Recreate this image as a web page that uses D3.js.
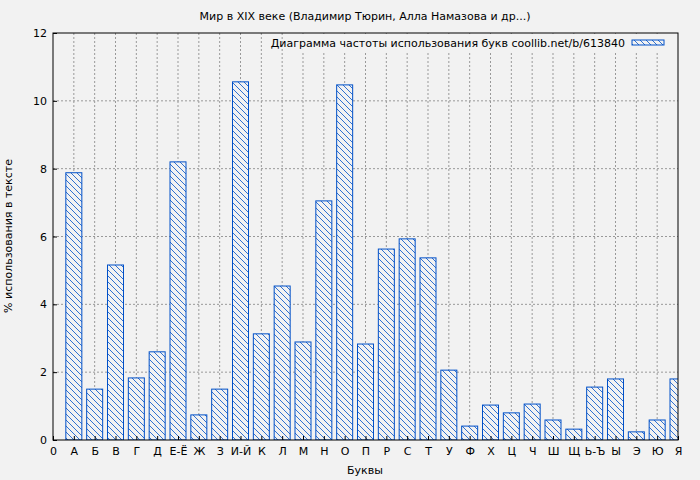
<!DOCTYPE html><html><head><meta charset="utf-8"><script src="https://cdn.jsdelivr.net/npm/d3@7"></script>
<style>body{margin:0;background:#f2f2f2}svg{font-family:"DejaVu Sans";}</style></head><body><svg width="700" height="480"></svg>
<script>
const letters=["А","Б","В","Г","Д","Е-Ё","Ж","З","И-Й","К","Л","М","Н","О","П","Р","С","Т","У","Ф","Х","Ц","Ч","Ш","Щ","Ь-Ъ","Ы","Э","Ю","Я"];
const values=[7.88,1.5,5.16,1.83,2.6,8.2,0.74,1.5,10.56,3.13,4.54,2.89,7.05,10.47,2.83,5.63,5.93,5.37,2.06,0.41,1.03,0.8,1.06,0.59,0.32,1.56,1.8,0.24,0.59,1.8];
const xTickLabels=["0"].concat(letters);
const yTicks=[0,2,4,6,8,10,12];
const svg=d3.select("svg");
const L=53,R=678,T=33,B=440,blue="#0050c8";
const x=d3.scaleLinear().domain([0,30]).range([L,R]);
const y=d3.scaleLinear().domain([0,12]).range([B,T]);
svg.append("rect").attr("width",700).attr("height",480).attr("fill","#f2f2f2");
const defs=svg.append("defs");
const p=defs.append("pattern").attr("id","h").attr("patternUnits","userSpaceOnUse").attr("width",6).attr("height",6);
p.append("rect").attr("width",6).attr("height",6).attr("fill","#f2f2f2");
p.append("path").attr("d","M-1,-1L7,7M-1,5L1,7M5,-1L7,1").attr("stroke",blue).attr("stroke-width",0.8);
defs.append("clipPath").attr("id","c").append("rect").attr("x",L).attr("y",T).attr("width",R-L).attr("height",B-T);
const g=svg.append("g");
d3.range(1,30).forEach(i=>g.append("line").attr("x1",x(i)).attr("x2",x(i)).attr("y1",T).attr("y2",B).attr("stroke","#999").attr("stroke-dasharray","2,2"));
yTicks.slice(1,-1).forEach(v=>g.append("line").attr("x1",L).attr("x2",R).attr("y1",y(v)).attr("y2",y(v)).attr("stroke","#999").attr("stroke-dasharray","2,2"));
const bw=16;
svg.append("g").attr("clip-path","url(#c)").selectAll("rect").data(values).join("rect")
 .attr("x",(d,i)=>x(i+1)-bw/2).attr("width",bw).attr("y",d=>y(d)).attr("height",d=>B-y(d))
 .attr("fill","url(#h)").attr("stroke",blue).attr("stroke-width",1);
svg.append("rect").attr("x",L).attr("y",T).attr("width",R-L).attr("height",B-T).attr("fill","none").attr("stroke","#000");
const xa=svg.append("g").attr("transform",`translate(0,${B})`).call(d3.axisBottom(x).tickValues(d3.range(0,31)).tickFormat(i=>xTickLabels[i]).tickSizeInner(-4).tickSizeOuter(0));
const ya=svg.append("g").attr("transform",`translate(${L},0)`).call(d3.axisLeft(y).tickValues(yTicks).tickSizeInner(-4).tickSizeOuter(0));
[xa,ya].forEach(a=>{a.select(".domain").remove();a.selectAll("text").attr("font-size",11).attr("fill","#000").attr("font-family","DejaVu Sans");});
xa.selectAll("text").attr("dy","1.1em");ya.selectAll("text").attr("dx","-3");
svg.append("text").attr("x",365).attr("y",20).attr("text-anchor","middle").attr("font-size",11).text("Мир в XIX веке (Владимир Тюрин, Алла Намазова и др...)");
svg.append("text").attr("x",365).attr("y",474).attr("text-anchor","middle").attr("font-size",11).text("Буквы");
svg.append("text").attr("transform","translate(12,236) rotate(-90)").attr("text-anchor","middle").attr("font-size",11).text("% использования в тексте");
svg.append("rect").attr("x",284).attr("y",34).attr("width",392).attr("height",17).attr("fill","#f2f2f2");
svg.append("text").attr("x",625).attr("y",47).attr("text-anchor","end").attr("font-size",11).text("Диаграмма частоты использования букв coollib.net/b/613840");
svg.append("rect").attr("x",632).attr("y",40).attr("width",32).attr("height",5).attr("fill","url(#h)").attr("stroke",blue);
</script></body></html>
